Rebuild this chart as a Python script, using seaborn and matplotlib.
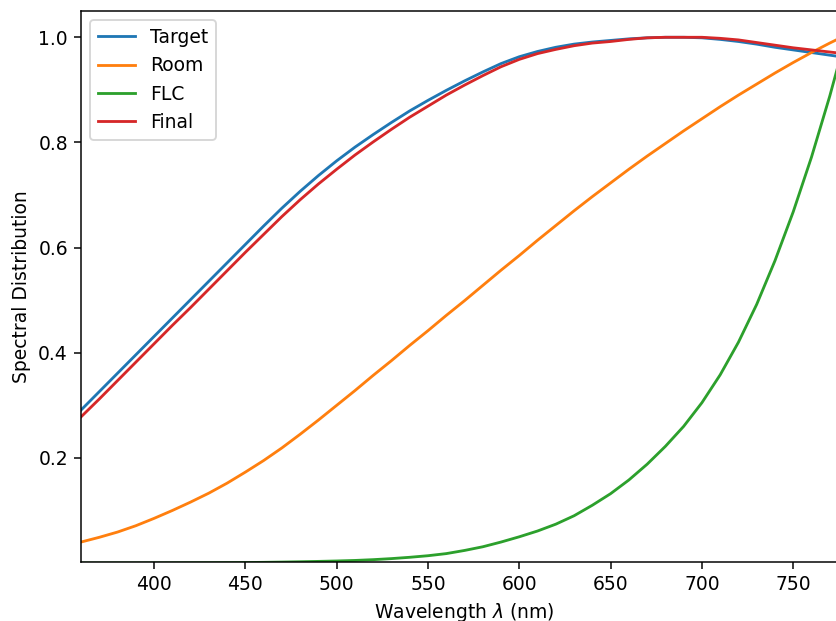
import matplotlib
matplotlib.use("Agg")
import matplotlib.pyplot as plt
import seaborn as sns

wavelength = list(range(360, 781, 10))

target = [0.291, 0.326, 0.361, 0.396, 0.431, 0.466, 0.501, 0.536, 0.571, 0.606,
          0.641, 0.675, 0.707, 0.737, 0.765, 0.791, 0.815, 0.838, 0.860, 0.880,
          0.899, 0.917, 0.934, 0.950, 0.963, 0.973, 0.981, 0.987, 0.991, 0.994,
          0.997, 0.999, 1.000, 1.000, 0.999, 0.996, 0.992, 0.987, 0.981, 0.976,
          0.971, 0.966, 0.961]

room = [0.040, 0.049, 0.059, 0.071, 0.085, 0.100, 0.116, 0.133, 0.152, 0.173,
        0.195, 0.219, 0.245, 0.272, 0.300, 0.328, 0.357, 0.385, 0.414, 0.442,
        0.471, 0.499, 0.528, 0.557, 0.585, 0.614, 0.642, 0.670, 0.697, 0.723,
        0.749, 0.774, 0.798, 0.822, 0.845, 0.868, 0.890, 0.911, 0.932, 0.952,
        0.971, 0.989, 1.006]

flc = [0.0001, 0.0001, 0.0002, 0.0002, 0.0003, 0.0004, 0.0005, 0.0006, 0.0008, 0.0010,
       0.0014, 0.0019, 0.0025, 0.0032, 0.0040, 0.0050, 0.0065, 0.0085, 0.011, 0.014,
       0.018, 0.024, 0.031, 0.040, 0.050, 0.061, 0.074, 0.090, 0.110, 0.132,
       0.158, 0.188, 0.222, 0.260, 0.305, 0.358, 0.420, 0.492, 0.575, 0.668,
       0.772, 0.888, 1.015]

final = [0.278, 0.312, 0.347, 0.382, 0.417, 0.452, 0.486, 0.521, 0.556, 0.591,
         0.625, 0.659, 0.691, 0.721, 0.749, 0.776, 0.801, 0.825, 0.848, 0.869,
         0.890, 0.909, 0.927, 0.944, 0.958, 0.969, 0.977, 0.984, 0.989, 0.992,
         0.996, 0.999, 1.000, 1.000, 1.000, 0.998, 0.995, 0.990, 0.985, 0.980,
         0.976, 0.972, 0.968]

series_names = ["Target", "Room", "FLC", "Final"]
series_values = [target, room, flc, final]
series_colors = ["#1f77b4", "#ff7f0e", "#2ca02c", "#d62728"]

xticks = [400, 450, 500, 550, 600, 650, 700, 750]
yticks = [0.2, 0.4, 0.6, 0.8, 1.0]

DPI = 135
fig = plt.figure(figsize=(836 / DPI, 621 / DPI), dpi=DPI)
ax = fig.add_axes([81 / 836, 1 - 561.5 / 621, (848 - 81) / 836, (561.5 - 11) / 621])

for name, vals, color in zip(series_names, series_values, series_colors):
    sns.lineplot(x=wavelength, y=vals, ax=ax, label=name, color=color, linewidth=1.5)

ax.set_xlim(360, 780)
ax.set_ylim(0.003, 1.05)
ax.set_xticks(xticks)
ax.set_yticks(yticks)
ax.set_xlabel(r"Wavelength $\lambda$ (nm)")
ax.set_ylabel("Spectral Distribution")
ax.legend(loc="upper left")

fig.savefig("out.png", dpi=DPI)
